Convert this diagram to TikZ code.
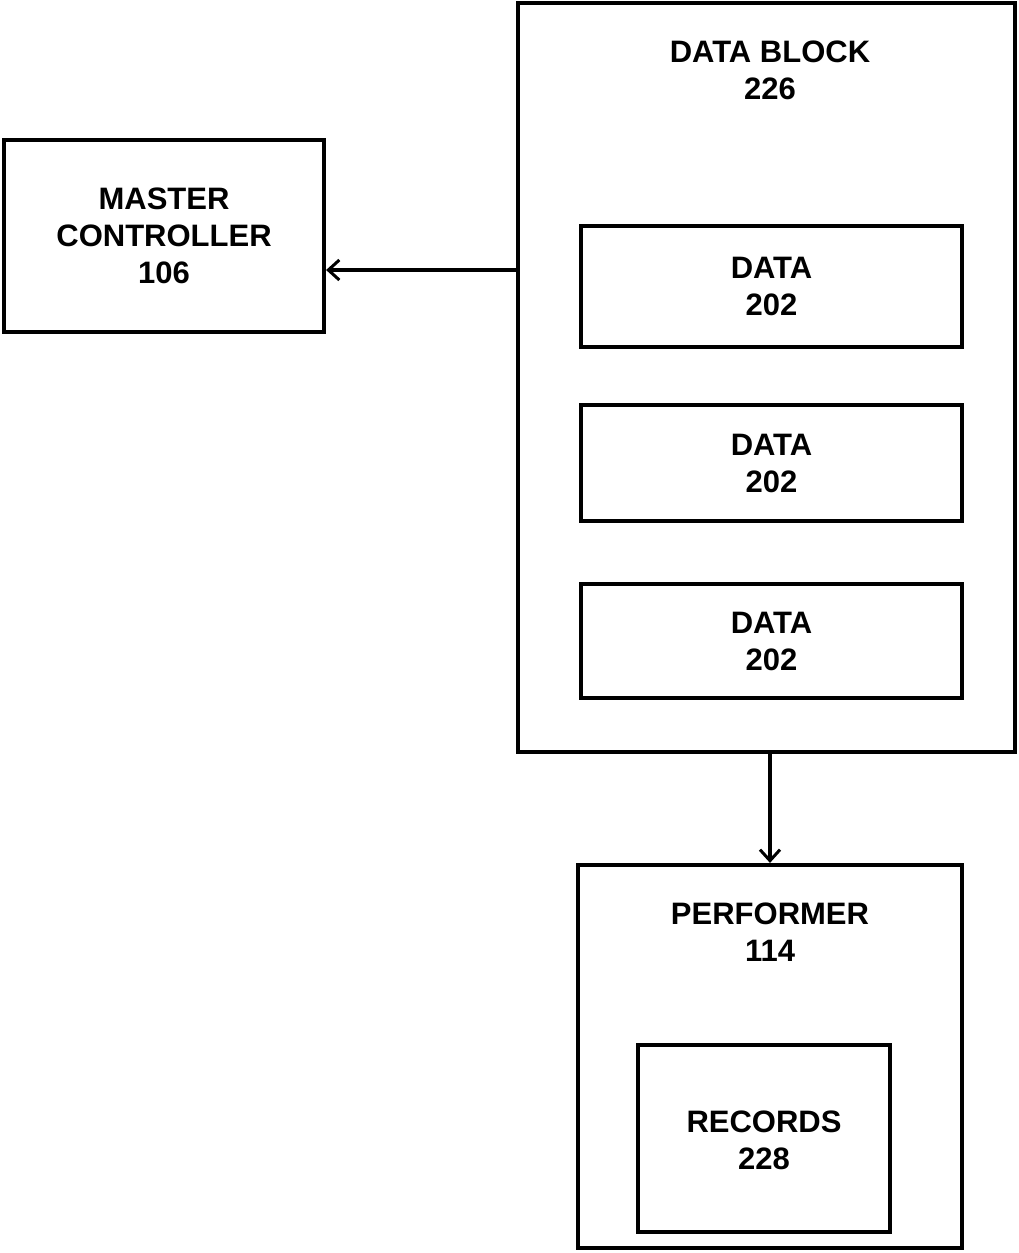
\documentclass[tikz,border=0pt]{standalone}
\usepackage{fontspec}
\setmainfont{Liberation Sans}
\usetikzlibrary{arrows.meta}
\begin{document}
\begin{tikzpicture}[x=1pt,y=-1pt,
  box/.style={draw,line width=4.2pt,rectangle,inner sep=0pt},
  lbl/.style={font=\fontsize{31}{37}\selectfont\bfseries,align=center,inner sep=0pt},
  conn/.style={line width=3.4pt,-{Straight Barb[length=11pt,width=20pt,line width=3pt]}}]
\useasboundingbox (0,0) rectangle (1019,1253);
% master controller
\node[box,minimum width=320pt,minimum height=192pt] (mc) at (164,236) {};
\node[lbl] (mct) at (164,236) {MASTER\\CONTROLLER\\106};
% data block
\node[box,minimum width=497pt,minimum height=749pt] (db) at (766.5,377.5) {};
\node[lbl] (dbt) at (770,70) {DATA BLOCK\\226};
\node[box,minimum width=381pt,minimum height=121pt] (d1) at (771.5,286.5) {};
\node[lbl] (d1t) at (771.5,286.5) {DATA\\202};
\node[box,minimum width=381pt,minimum height=116pt] (d2) at (771.5,463) {};
\node[lbl] (d2t) at (771.5,463) {DATA\\202};
\node[box,minimum width=381pt,minimum height=114pt] (d3) at (771.5,641) {};
\node[lbl] (d3t) at (771.5,641) {DATA\\202};
% performer
\node[box,minimum width=384pt,minimum height=383pt] (pf) at (770,1056.5) {};
\node[lbl] (pft) at (770,932) {PERFORMER\\114};
\node[box,minimum width=252pt,minimum height=187pt] (rc) at (764,1138.5) {};
\node[lbl] (rct) at (764,1140) {RECORDS\\228};
% connectors
\draw[conn] (db.west |- 0,270) -- (mc.east |- 0,270);
\draw[conn] (db.south -| 770,0) -- (pf.north -| 770,0);
\end{tikzpicture}
\end{document}
